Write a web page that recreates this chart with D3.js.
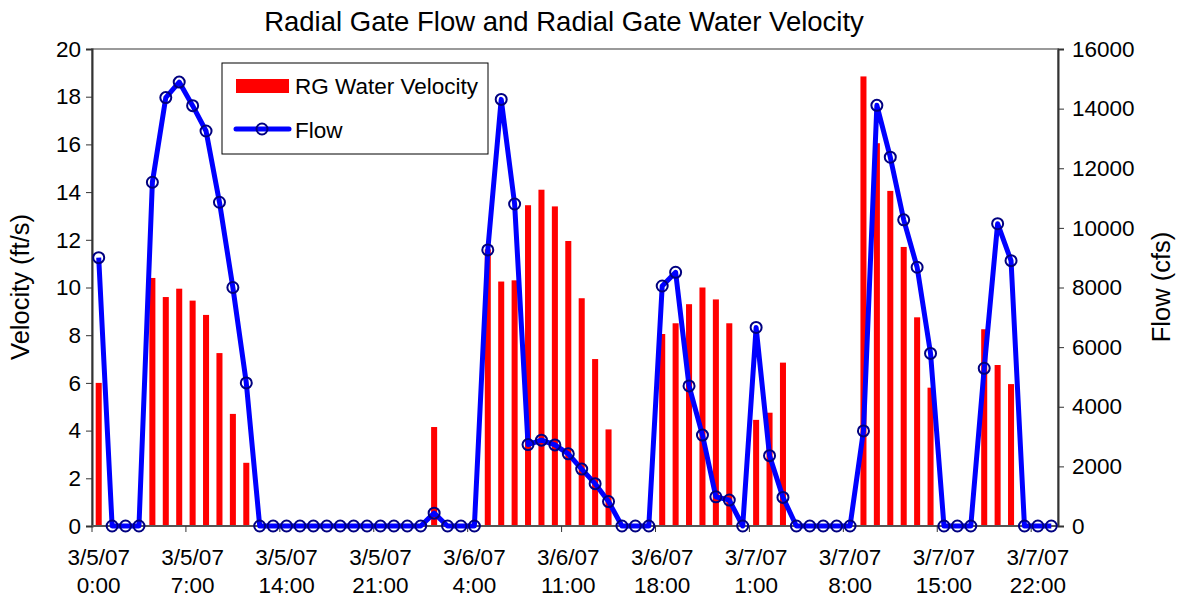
<!DOCTYPE html>
<html>
<head>
<meta charset="utf-8">
<script src="https://cdn.jsdelivr.net/npm/d3@7"></script>
<style>
  body { margin: 0; background: #fff; }
  svg { font-family: "Liberation Sans", Arial, sans-serif; }
</style>
</head>
<body>
<div id="chart"></div>
<script>
// hourly readings, 3/5/07 0:00 .. 3/7/07 23:00
const hours = d3.range(72);
const velocity = [
  6.0, 0, 0, 0, 10.4, 9.6, 9.95, 9.45, 8.85, 7.25, 4.7, 2.65,
  0, 0, 0, 0, 0, 0, 0, 0, 0, 0, 0, 0,
  0, 4.15, 0, 0, 0, 11.6, 10.25, 10.3, 13.45, 14.1, 13.4, 11.95,
  9.55, 7.0, 4.05, 0, 0, 0, 8.05, 8.5, 9.3, 10.0, 9.5, 8.5,
  0, 4.45, 4.75, 6.85, 0, 0, 0, 0, 0, 18.85, 16.05, 14.05,
  11.7, 8.75, 5.8, 0, 0, 0, 8.25, 6.75, 5.95, 0, 0, 0
];
const flow = [
  9000, 0, 0, 0, 11530, 14370, 14890, 14100, 13250, 10860, 8000, 4800,
  0, 0, 0, 0, 0, 0, 0, 0, 0, 0, 0, 0,
  0, 430, 0, 0, 0, 9260, 14310, 10800, 2730, 2880, 2720, 2420,
  1910, 1420, 820, 0, 0, 0, 8050, 8510, 4700, 3050, 980, 870,
  0, 6660, 2360, 960, 0, 0, 0, 0, 0, 3190, 14110, 12370,
  10270, 8680, 5790, 0, 0, 0, 5290, 10140, 8900, 0, 0, 0
];
const tickHours = [0, 7, 14, 21, 28, 35, 42, 49, 56, 63, 70];
const tickDates = ["3/5/07", "3/5/07", "3/5/07", "3/5/07", "3/6/07", "3/6/07",
  "3/6/07", "3/7/07", "3/7/07", "3/7/07", "3/7/07"];
const tickTimes = ["0:00", "7:00", "14:00", "21:00", "4:00", "11:00",
  "18:00", "1:00", "8:00", "15:00", "22:00"];
const velTicks = d3.range(0, 21, 2);
const flowTicks = d3.range(0, 16001, 2000);

const W = 1184, H = 603;
const margin = { top: 49, right: 126, bottom: 77, left: 92 },
    width = W - margin.left - margin.right,
    height = H - margin.top - margin.bottom;
const fs = 22.5;

const svg = d3.select("#chart").append("svg")
    .attr("width", W).attr("height", H);
const g = svg.append("g")
    .attr("transform", `translate(${margin.left},${margin.top})`);

const x = d3.scaleBand().domain(hours).range([0, width]).padding(0);
const yV = d3.scaleLinear().domain([0, 20]).range([height, 0]);
const yF = d3.scaleLinear().domain([0, 16000]).range([height, 0]);

// plot border (top / right gray)
g.append("rect").attr("x", 0).attr("y", 0).attr("width", width).attr("height", height)
    .attr("fill", "none").attr("stroke", "#9a9a9a").attr("stroke-width", 2);

// bars
const barW = x.bandwidth() * 0.45;
g.selectAll(".bar").data(hours).enter().append("rect")
    .attr("class", "bar")
    .attr("x", (d) => x(d) + (x.bandwidth() - barW) / 2)
    .attr("y", (d) => yV(velocity[d]))
    .attr("width", barW)
    .attr("height", (d) => yV(0) - yV(velocity[d]))
    .attr("fill", "#ff0000");

// left axis
const axL = g.append("g").call(d3.axisLeft(yV).tickValues(velTicks).tickSize(6).tickPadding(5));
axL.select(".domain").attr("stroke", "#333").attr("stroke-width", 2);
axL.selectAll("line").attr("stroke", "#333");
axL.selectAll("text").attr("font-size", fs).attr("fill", "#000");

// right axis
const axR = g.append("g").attr("transform", `translate(${width},0)`)
    .call(d3.axisRight(yF).tickValues(flowTicks).tickFormat(d3.format("d")).tickSize(6).tickPadding(8));
axR.select(".domain").attr("stroke", "#333").attr("stroke-width", 2);
axR.selectAll("line").attr("stroke", "#333");
axR.selectAll("text").attr("font-size", fs).attr("fill", "#000");

// bottom axis
g.append("line").attr("x1", 0).attr("x2", width).attr("y1", height).attr("y2", height)
    .attr("stroke", "#555").attr("stroke-width", 2);
g.selectAll(".xtick").data(tickHours).enter().append("line")
    .attr("x1", (d) => x(d)).attr("x2", (d) => x(d))
    .attr("y1", height).attr("y2", height + 6)
    .attr("stroke", "#333");
const xl = g.selectAll(".xlab").data(tickHours).enter().append("text")
    .attr("x", (d) => x(d) + x.bandwidth() / 2)
    .attr("text-anchor", "middle").attr("font-size", fs);
xl.append("tspan").attr("x", (d) => x(d) + x.bandwidth() / 2).attr("y", height + 39)
    .text((d, i) => tickDates[i]);
xl.append("tspan").attr("x", (d) => x(d) + x.bandwidth() / 2).attr("y", height + 67)
    .text((d, i) => tickTimes[i]);

// flow line
const line = d3.line().x((d) => x(d) + x.bandwidth() / 2).y((d) => yF(flow[d]));
g.append("path").datum(hours).attr("d", line)
    .attr("fill", "none").attr("stroke", "#0000ff").attr("stroke-width", 5)
    .attr("stroke-linejoin", "round");
g.selectAll(".pt").data(hours).enter().append("circle")
    .attr("cx", (d) => x(d) + x.bandwidth() / 2)
    .attr("cy", (d) => yF(flow[d]))
    .attr("r", 5.5)
    .attr("fill", "none").attr("stroke", "#000080").attr("stroke-width", 2);

// legend
const lg = svg.append("g").attr("transform", "translate(222,63)");
lg.append("rect").attr("width", 266).attr("height", 91)
    .attr("fill", "#fff").attr("stroke", "#000").attr("stroke-width", 1);
lg.append("rect").attr("x", 14).attr("y", 16).attr("width", 53).attr("height", 14).attr("fill", "#ff0000");
lg.append("text").attr("x", 73).attr("y", 31).attr("font-size", fs).text("RG Water Velocity");
lg.append("line").attr("x1", 14).attr("x2", 67).attr("y1", 66).attr("y2", 66)
    .attr("stroke", "#0000ff").attr("stroke-width", 5).attr("stroke-linecap", "round");
lg.append("circle").attr("cx", 40).attr("cy", 66).attr("r", 5.5)
    .attr("fill", "none").attr("stroke", "#000080").attr("stroke-width", 2);
lg.append("text").attr("x", 73).attr("y", 75).attr("font-size", fs).text("Flow");

// titles
svg.append("text").attr("x", 564).attr("y", 31).attr("text-anchor", "middle")
    .attr("font-size", 27.5).text("Radial Gate Flow and Radial Gate Water Velocity");
svg.append("text").attr("transform", "translate(29,287) rotate(-90)")
    .attr("text-anchor", "middle").attr("font-size", 25.5).text("Velocity (ft/s)");
svg.append("text").attr("transform", "translate(1170,287) rotate(-90)")
    .attr("text-anchor", "middle").attr("font-size", 25.5).text("Flow (cfs)");
</script>
</body>
</html>
